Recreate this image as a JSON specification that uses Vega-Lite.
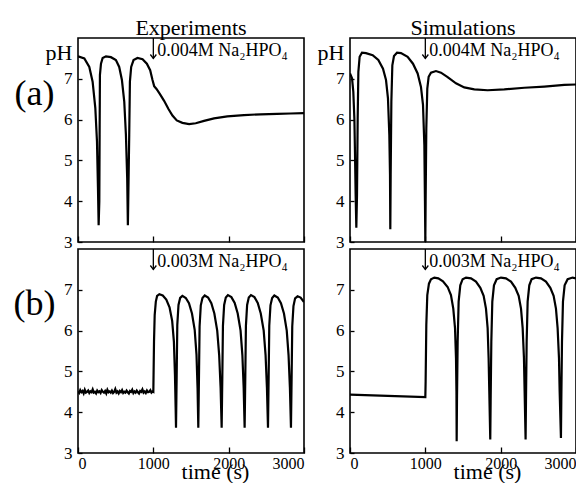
{
  "$schema": "https://vega.github.io/schema/vega-lite/v6.json",
  "padding": {"left": 12, "top": 16, "right": 0, "bottom": 0},
  "background": "white",
  "columns": 2,
  "bounds": "flush",
  "spacing": {"row": 7, "column": 46},
  "config": {
    "font": "Liberation Serif",
    "view": {"stroke": "black", "strokeWidth": 1.6},
    "axis": {"domain": false, "grid": false, "tickColor": "black", "tickWidth": 1.3, "labelColor": "black", "titleColor": "black", "labelFont": "Liberation Serif", "titleFont": "Liberation Serif", "labelFontSize": 17, "titleFontWeight": "normal", "labelOverlap": false, "labelBound": false},
    "axisX": {"tickSize": -6, "labelPadding": 8},
    "axisY": {"tickSize": -4, "labelPadding": 10},
    "text": {"font": "Liberation Serif"},
    "title": {"font": "Liberation Serif", "fontSize": 22, "fontWeight": "normal", "color": "black", "frame": "group", "anchor": "middle", "baseline": "alphabetic", "offset": -3}
  },
  "datasets": {
    "expA": [
      {"t":0,"pH":7.55},{"t":84,"pH":7.5},{"t":150,"pH":7.29},{"t":194,"pH":6.93},{"t":230,"pH":6.28},{"t":252,"pH":5.46},{"t":265,"pH":4.33},{"t":274,"pH":3.41},{"t":283,"pH":4.0},{"t":287,"pH":5.63},{"t":291,"pH":7.09},{"t":305,"pH":7.37},{"t":327,"pH":7.51},{"t":371,"pH":7.55},{"t":437,"pH":7.53},{"t":503,"pH":7.46},{"t":547,"pH":7.29},{"t":583,"pH":6.97},{"t":614,"pH":6.44},{"t":636,"pH":5.63},{"t":653,"pH":4.57},{"t":662,"pH":3.41},{"t":667,"pH":4.0},{"t":680,"pH":5.63},{"t":689,"pH":6.93},{"t":706,"pH":7.29},{"t":737,"pH":7.46},{"t":790,"pH":7.51},{"t":857,"pH":7.48},{"t":914,"pH":7.37},{"t":958,"pH":7.21},{"t":989,"pH":6.97},{"t":1011,"pH":6.82},{"t":1042,"pH":6.75},{"t":1090,"pH":6.62},{"t":1143,"pH":6.46},{"t":1201,"pH":6.26},{"t":1254,"pH":6.1},{"t":1311,"pH":5.98},{"t":1386,"pH":5.92},{"t":1475,"pH":5.89},{"t":1563,"pH":5.91},{"t":1673,"pH":5.97},{"t":1806,"pH":6.03},{"t":1982,"pH":6.08},{"t":2203,"pH":6.11},{"t":2424,"pH":6.13},{"t":2645,"pH":6.14},{"t":2821,"pH":6.15},{"t":3000,"pH":6.16}
    ],
    "simA": [
      {"t":0,"pH":7.13},{"t":27,"pH":7.01},{"t":44,"pH":6.68},{"t":58,"pH":6.03},{"t":66,"pH":5.21},{"t":75,"pH":4.16},{"t":84,"pH":3.35},{"t":93,"pH":4.16},{"t":102,"pH":6.03},{"t":111,"pH":7.17},{"t":128,"pH":7.54},{"t":159,"pH":7.64},{"t":212,"pH":7.63},{"t":301,"pH":7.58},{"t":376,"pH":7.46},{"t":438,"pH":7.25},{"t":478,"pH":6.97},{"t":504,"pH":6.52},{"t":522,"pH":5.63},{"t":531,"pH":4.65},{"t":535,"pH":3.31},{"t":540,"pH":4.65},{"t":549,"pH":6.44},{"t":562,"pH":7.33},{"t":584,"pH":7.56},{"t":624,"pH":7.64},{"t":677,"pH":7.63},{"t":765,"pH":7.54},{"t":836,"pH":7.37},{"t":898,"pH":7.13},{"t":942,"pH":6.8},{"t":969,"pH":6.36},{"t":987,"pH":5.38},{"t":995,"pH":4.0},{"t":1000,"pH":3.0},{"t":1004,"pH":4.0},{"t":1013,"pH":5.79},{"t":1026,"pH":6.76},{"t":1044,"pH":7.05},{"t":1075,"pH":7.15},{"t":1141,"pH":7.19},{"t":1208,"pH":7.15},{"t":1296,"pH":7.04},{"t":1407,"pH":6.89},{"t":1517,"pH":6.79},{"t":1650,"pH":6.74},{"t":1827,"pH":6.72},{"t":2048,"pH":6.74},{"t":2314,"pH":6.78},{"t":2579,"pH":6.81},{"t":2845,"pH":6.85},{"t":3000,"pH":6.86}
    ],
    "expB": [
      {"t":0,"pH":4.51},{"t":15,"pH":4.47},{"t":30,"pH":4.54},{"t":45,"pH":4.49},{"t":60,"pH":4.52},{"t":75,"pH":4.46},{"t":90,"pH":4.55},{"t":105,"pH":4.48},{"t":120,"pH":4.5},{"t":135,"pH":4.53},{"t":150,"pH":4.47},{"t":165,"pH":4.51},{"t":180,"pH":4.49},{"t":195,"pH":4.56},{"t":210,"pH":4.48},{"t":225,"pH":4.5},{"t":240,"pH":4.46},{"t":255,"pH":4.53},{"t":270,"pH":4.49},{"t":285,"pH":4.51},{"t":300,"pH":4.47},{"t":315,"pH":4.54},{"t":330,"pH":4.5},{"t":345,"pH":4.48},{"t":360,"pH":4.52},{"t":375,"pH":4.46},{"t":390,"pH":4.55},{"t":405,"pH":4.49},{"t":420,"pH":4.51},{"t":435,"pH":4.48},{"t":450,"pH":4.53},{"t":465,"pH":4.47},{"t":480,"pH":4.5},{"t":495,"pH":4.57},{"t":510,"pH":4.48},{"t":525,"pH":4.51},{"t":540,"pH":4.46},{"t":555,"pH":4.52},{"t":570,"pH":4.49},{"t":585,"pH":4.54},{"t":600,"pH":4.47},{"t":615,"pH":4.5},{"t":630,"pH":4.48},{"t":645,"pH":4.53},{"t":660,"pH":4.49},{"t":675,"pH":4.46},{"t":690,"pH":4.52},{"t":705,"pH":4.5},{"t":720,"pH":4.55},{"t":735,"pH":4.47},{"t":750,"pH":4.51},{"t":765,"pH":4.48},{"t":780,"pH":4.53},{"t":795,"pH":4.49},{"t":810,"pH":4.46},{"t":825,"pH":4.52},{"t":840,"pH":4.5},{"t":855,"pH":4.56},{"t":870,"pH":4.48},{"t":885,"pH":4.51},{"t":900,"pH":4.47},{"t":915,"pH":4.53},{"t":930,"pH":4.49},{"t":945,"pH":4.5},{"t":960,"pH":4.54},{"t":975,"pH":4.48},{"t":990,"pH":4.51},{"t":1000,"pH":4.5},
      {"t":1009,"pH":5.73},{"t":1018,"pH":6.38},{"t":1033,"pH":6.71},{"t":1050,"pH":6.85},{"t":1080,"pH":6.89},{"t":1125,"pH":6.86},{"t":1172,"pH":6.76},{"t":1215,"pH":6.57},{"t":1250,"pH":6.24},{"t":1273,"pH":5.73},{"t":1287,"pH":4.92},{"t":1296,"pH":4.11},{"t":1301,"pH":3.62},
      {"t":1310,"pH":4.92},{"t":1318,"pH":6.14},{"t":1334,"pH":6.63},{"t":1356,"pH":6.8},{"t":1386,"pH":6.85},{"t":1431,"pH":6.8},{"t":1473,"pH":6.67},{"t":1513,"pH":6.42},{"t":1549,"pH":6.02},{"t":1573,"pH":5.41},{"t":1587,"pH":4.59},{"t":1597,"pH":3.62},
      {"t":1606,"pH":4.9},{"t":1614,"pH":6.1},{"t":1630,"pH":6.62},{"t":1652,"pH":6.8},{"t":1682,"pH":6.86},{"t":1727,"pH":6.81},{"t":1770,"pH":6.67},{"t":1810,"pH":6.42},{"t":1848,"pH":6.0},{"t":1874,"pH":5.4},{"t":1893,"pH":4.6},{"t":1907,"pH":3.62},
      {"t":1916,"pH":4.9},{"t":1924,"pH":6.12},{"t":1940,"pH":6.63},{"t":1962,"pH":6.81},{"t":1990,"pH":6.87},{"t":2036,"pH":6.82},{"t":2080,"pH":6.68},{"t":2120,"pH":6.42},{"t":2158,"pH":6.0},{"t":2182,"pH":5.4},{"t":2199,"pH":4.6},{"t":2212,"pH":3.62},
      {"t":2221,"pH":4.9},{"t":2229,"pH":6.12},{"t":2245,"pH":6.63},{"t":2267,"pH":6.81},{"t":2296,"pH":6.87},{"t":2342,"pH":6.82},{"t":2386,"pH":6.68},{"t":2426,"pH":6.42},{"t":2465,"pH":6.0},{"t":2490,"pH":5.4},{"t":2508,"pH":4.6},{"t":2522,"pH":3.62},
      {"t":2531,"pH":4.9},{"t":2539,"pH":6.12},{"t":2555,"pH":6.62},{"t":2577,"pH":6.8},{"t":2606,"pH":6.86},{"t":2652,"pH":6.81},{"t":2694,"pH":6.67},{"t":2734,"pH":6.42},{"t":2771,"pH":6.0},{"t":2795,"pH":5.4},{"t":2813,"pH":4.6},{"t":2827,"pH":3.62},
      {"t":2836,"pH":4.9},{"t":2844,"pH":6.1},{"t":2860,"pH":6.6},{"t":2882,"pH":6.79},{"t":2915,"pH":6.84},{"t":2955,"pH":6.81},{"t":3000,"pH":6.7}
    ],
    "simB": [
      {"t":0,"pH":4.43},{"t":500,"pH":4.4},{"t":1000,"pH":4.37},
      {"t":1004,"pH":4.76},{"t":1013,"pH":6.14},{"t":1026,"pH":6.87},{"t":1048,"pH":7.15},{"t":1075,"pH":7.26},{"t":1119,"pH":7.3},{"t":1172,"pH":7.28},{"t":1234,"pH":7.21},{"t":1296,"pH":7.07},{"t":1340,"pH":6.87},{"t":1371,"pH":6.54},{"t":1394,"pH":6.06},{"t":1407,"pH":5.33},{"t":1413,"pH":4.51},{"t":1416,"pH":3.29},
      {"t":1420,"pH":4.27},{"t":1429,"pH":5.73},{"t":1442,"pH":6.71},{"t":1464,"pH":7.11},{"t":1495,"pH":7.26},{"t":1540,"pH":7.3},{"t":1606,"pH":7.28},{"t":1672,"pH":7.2},{"t":1730,"pH":7.05},{"t":1774,"pH":6.85},{"t":1805,"pH":6.54},{"t":1827,"pH":6.06},{"t":1840,"pH":5.33},{"t":1849,"pH":4.51},{"t":1862,"pH":3.33},
      {"t":1867,"pH":4.27},{"t":1876,"pH":5.73},{"t":1889,"pH":6.71},{"t":1911,"pH":7.11},{"t":1947,"pH":7.26},{"t":2004,"pH":7.3},{"t":2070,"pH":7.28},{"t":2137,"pH":7.2},{"t":2194,"pH":7.05},{"t":2239,"pH":6.85},{"t":2270,"pH":6.54},{"t":2292,"pH":6.06},{"t":2309,"pH":5.33},{"t":2318,"pH":4.51},{"t":2331,"pH":3.33},
      {"t":2336,"pH":4.27},{"t":2345,"pH":5.73},{"t":2358,"pH":6.71},{"t":2380,"pH":7.11},{"t":2411,"pH":7.26},{"t":2469,"pH":7.3},{"t":2535,"pH":7.28},{"t":2601,"pH":7.2},{"t":2659,"pH":7.05},{"t":2703,"pH":6.85},{"t":2734,"pH":6.54},{"t":2756,"pH":6.06},{"t":2774,"pH":5.33},{"t":2783,"pH":4.51},{"t":2800,"pH":3.37},
      {"t":2805,"pH":4.27},{"t":2814,"pH":5.73},{"t":2827,"pH":6.71},{"t":2849,"pH":7.11},{"t":2889,"pH":7.26},{"t":2955,"pH":7.3},{"t":3000,"pH":7.28}
    ],
    "noteA": [{"t":1000,"label":"0.004M Na₂HPO₄"}],
    "noteB": [{"t":1000,"label":"0.003M Na₂HPO₄"}]
  },
  "concat": [
    {
      "width": 226, "height": 204,
      "title": {"text": "Experiments"},
      "layer": [
        {
          "data": {"name": "expA"},
          "mark": {"type": "line", "color": "black", "strokeWidth": 2.2, "clip": true},
          "encoding": {
            "x": {"field": "t", "type": "quantitative", "scale": {"domain": [0, 3000], "nice": false, "zero": false},
                  "axis": {"values": [0, 1000, 2000, 3000], "labels": false, "title": null}},
            "y": {"field": "pH", "type": "quantitative", "scale": {"domain": [3, 8], "nice": false, "zero": false},
                  "axis": {"values": [3, 4, 5, 6, 7, 8],
                           "labelExpr": "datum.value == 8 ? 'pH' : datum.label",
                           "labelFontSize": {"condition": {"test": "datum.value == 8", "value": 22}, "value": 17},
                           "labelOffset": {"condition": {"test": "datum.value == 8", "value": 14}, "value": 0},
                           "tickOpacity": {"condition": {"test": "datum.value == 8", "value": 0}, "value": 1},
                           "title": "(a)", "titleAngle": 0, "titleFontSize": 36, "titleAlign": "center", "titleBaseline": "middle", "titleX": -44, "titleY": 55}}
          }
        },
        {
          "data": {"name": "noteA"},
          "mark": {"type": "rule", "color": "black", "strokeWidth": 1.3},
          "encoding": {"x": {"field": "t", "type": "quantitative"}, "y": {"datum": 8}, "y2": {"datum": 7.5}}
        },
        {
          "data": {"name": "noteA"},
          "mark": {"type": "point", "shape": "M-1,-1.3L0,0L1,-1.3", "filled": false, "color": "black", "size": 36, "strokeWidth": 1.3, "opacity": 1},
          "encoding": {"x": {"field": "t", "type": "quantitative"}, "y": {"datum": 7.5}}
        },
        {
          "data": {"name": "noteA"},
          "mark": {"type": "text", "align": "left", "baseline": "alphabetic", "dx": 4, "fontSize": 18, "color": "black", "font": "Liberation Serif"},
          "encoding": {"x": {"field": "t", "type": "quantitative"}, "y": {"datum": 7.55}, "text": {"field": "label"}}
        }
      ]
    },
    {
      "width": 226, "height": 204,
      "title": {"text": "Simulations"},
      "layer": [
        {
          "data": {"name": "simA"},
          "mark": {"type": "line", "color": "black", "strokeWidth": 2.2, "clip": true},
          "encoding": {
            "x": {"field": "t", "type": "quantitative", "scale": {"domain": [0, 3000], "nice": false, "zero": false},
                  "axis": {"values": [0, 1000, 2000, 3000], "labels": false, "title": null}},
            "y": {"field": "pH", "type": "quantitative", "scale": {"domain": [3, 8], "nice": false, "zero": false},
                  "axis": {"values": [3, 4, 5, 6, 7, 8],
                           "labelExpr": "datum.value == 8 ? 'pH' : datum.label",
                           "labelFontSize": {"condition": {"test": "datum.value == 8", "value": 22}, "value": 17},
                           "labelOffset": {"condition": {"test": "datum.value == 8", "value": 14}, "value": 0},
                           "tickOpacity": {"condition": {"test": "datum.value == 8", "value": 0}, "value": 1},
                           "title": null}}
          }
        },
        {
          "data": {"name": "noteA"},
          "mark": {"type": "rule", "color": "black", "strokeWidth": 1.3},
          "encoding": {"x": {"field": "t", "type": "quantitative"}, "y": {"datum": 8}, "y2": {"datum": 7.5}}
        },
        {
          "data": {"name": "noteA"},
          "mark": {"type": "point", "shape": "M-1,-1.3L0,0L1,-1.3", "filled": false, "color": "black", "size": 36, "strokeWidth": 1.3, "opacity": 1},
          "encoding": {"x": {"field": "t", "type": "quantitative"}, "y": {"datum": 7.5}}
        },
        {
          "data": {"name": "noteA"},
          "mark": {"type": "text", "align": "left", "baseline": "alphabetic", "dx": 4, "fontSize": 18, "color": "black", "font": "Liberation Serif"},
          "encoding": {"x": {"field": "t", "type": "quantitative"}, "y": {"datum": 7.55}, "text": {"field": "label"}}
        }
      ]
    },
    {
      "width": 226, "height": 204,
      "layer": [
        {
          "data": {"name": "expB"},
          "mark": {"type": "line", "color": "black", "strokeWidth": 2.2, "clip": true},
          "encoding": {
            "x": {"field": "t", "type": "quantitative", "scale": {"domain": [0, 3000], "nice": false, "zero": false},
                  "axis": {"values": [0, 1000, 2000, 3000], "format": "d", "labelFlush": true, "labelFontSize": 16, "title": "time (s)", "titleFontSize": 22, "titleX": 137, "titleY": 25, "titleBaseline": "alphabetic", "titleAlign": "center"}},
            "y": {"field": "pH", "type": "quantitative", "scale": {"domain": [3, 8], "nice": false, "zero": false},
                  "axis": {"values": [3, 4, 5, 6, 7],
                           "title": "(b)", "titleAngle": 0, "titleFontSize": 36, "titleAlign": "center", "titleBaseline": "middle", "titleX": -44, "titleY": 54}}
          }
        },
        {
          "data": {"name": "noteB"},
          "mark": {"type": "rule", "color": "black", "strokeWidth": 1.3},
          "encoding": {"x": {"field": "t", "type": "quantitative"}, "y": {"datum": 8}, "y2": {"datum": 7.5}}
        },
        {
          "data": {"name": "noteB"},
          "mark": {"type": "point", "shape": "M-1,-1.3L0,0L1,-1.3", "filled": false, "color": "black", "size": 36, "strokeWidth": 1.3, "opacity": 1},
          "encoding": {"x": {"field": "t", "type": "quantitative"}, "y": {"datum": 7.5}}
        },
        {
          "data": {"name": "noteB"},
          "mark": {"type": "text", "align": "left", "baseline": "alphabetic", "dx": 4, "fontSize": 18, "color": "black", "font": "Liberation Serif"},
          "encoding": {"x": {"field": "t", "type": "quantitative"}, "y": {"datum": 7.55}, "text": {"field": "label"}}
        }
      ]
    },
    {
      "width": 226, "height": 204,
      "layer": [
        {
          "data": {"name": "simB"},
          "mark": {"type": "line", "color": "black", "strokeWidth": 2.2, "clip": true},
          "encoding": {
            "x": {"field": "t", "type": "quantitative", "scale": {"domain": [0, 3000], "nice": false, "zero": false},
                  "axis": {"values": [0, 1000, 2000, 3000], "format": "d", "labelFlush": true, "labelFontSize": 16, "title": "time (s)", "titleFontSize": 22, "titleX": 137, "titleY": 25, "titleBaseline": "alphabetic", "titleAlign": "center"}},
            "y": {"field": "pH", "type": "quantitative", "scale": {"domain": [3, 8], "nice": false, "zero": false},
                  "axis": {"values": [3, 4, 5, 6, 7], "title": null}}
          }
        },
        {
          "data": {"name": "noteB"},
          "mark": {"type": "rule", "color": "black", "strokeWidth": 1.3},
          "encoding": {"x": {"field": "t", "type": "quantitative"}, "y": {"datum": 8}, "y2": {"datum": 7.5}}
        },
        {
          "data": {"name": "noteB"},
          "mark": {"type": "point", "shape": "M-1,-1.3L0,0L1,-1.3", "filled": false, "color": "black", "size": 36, "strokeWidth": 1.3, "opacity": 1},
          "encoding": {"x": {"field": "t", "type": "quantitative"}, "y": {"datum": 7.5}}
        },
        {
          "data": {"name": "noteB"},
          "mark": {"type": "text", "align": "left", "baseline": "alphabetic", "dx": 4, "fontSize": 18, "color": "black", "font": "Liberation Serif"},
          "encoding": {"x": {"field": "t", "type": "quantitative"}, "y": {"datum": 7.55}, "text": {"field": "label"}}
        }
      ]
    }
  ]
}
